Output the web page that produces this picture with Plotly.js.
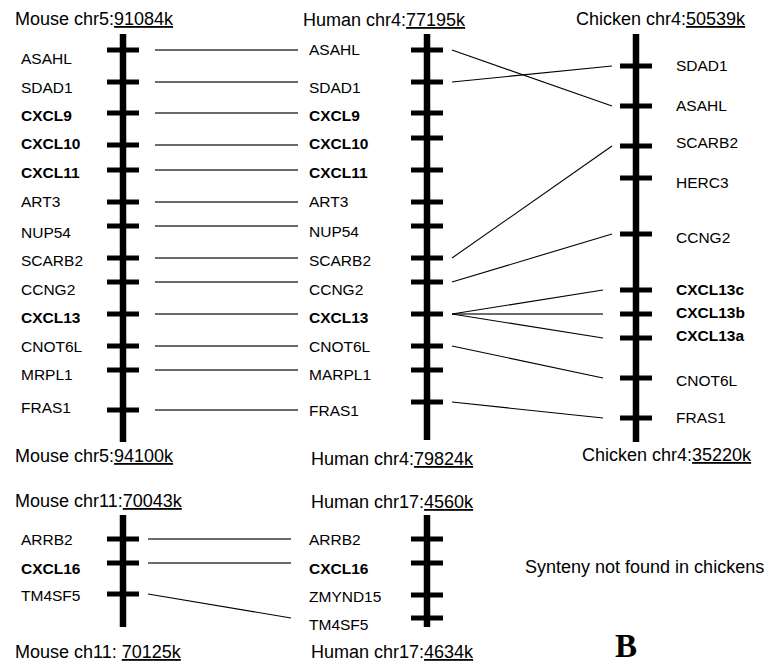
<!DOCTYPE html>
<html>
<head>
<meta charset="utf-8">
<script src="https://cdn.plot.ly/plotly-3.0.1.min.js"></script>
<style>html,body{margin:0;padding:0;background:#fff;}#chart{width:773px;height:663px;}</style>
</head>
<body>
<div id="chart"></div>
<script>
// ---------- data ----------
const mouse5Genes = ['ASAHL','SDAD1','CXCL9','CXCL10','CXCL11','ART3','NUP54','SCARB2','CCNG2','CXCL13','CNOT6L','MRPL1','FRAS1'];
const mouse5Ticks = [50,82,113,145,170,202,226,258,282,314,346,370,410];
const mouse5LabelY = [58,87,115,143,172,201,232,260,289,317,346,374,407];
const mouse5Span = [34,442];

const human4Genes = ['ASAHL','SDAD1','CXCL9','CXCL10','CXCL11','ART3','NUP54','SCARB2','CCNG2','CXCL13','CNOT6L','MARPL1','FRAS1'];
const human4Ticks = [50,82,113,138,170,202,226,258,282,314,346,370,402];
const human4LabelY = [49,87,115,143,172,201,231,260,289,317,346,374,410];
const human4Span = [34,440];

const chicken4Genes = ['SDAD1','ASAHL','SCARB2','HERC3','CCNG2','CXCL13c','CXCL13b','CXCL13a','CNOT6L','FRAS1'];
const chicken4Ticks = [66,106,146,178,234,290,314,338,378,418];
const chicken4LabelY = [65,105,142,182,237,289,312,335,380,417];
const chicken4Span = [34,442];

const mouse11Genes = ['ARRB2','CXCL16','TM4SF5'];
const mouse11Ticks = [539,563,594];
const mouse11LabelY = [539,568,595];
const mouse11Span = [515,627];

const human17Genes = ['ARRB2','CXCL16','ZMYND15','TM4SF5'];
const human17Ticks = [539,563,595,618];
const human17LabelY = [539,568,596,624];
const human17Span = [515,627];

// links: [gene index in first chromosome, gene index in second chromosome]
const mouseHuman5Links = [[0,0],[1,1],[2,2],[3,3],[4,4],[5,5],[6,6],[7,7],[8,8],[9,9],[10,10],[11,11],[12,12]];
const humanChickenLinks = [['ASAHL','ASAHL'],['SDAD1','SDAD1'],['SCARB2','SCARB2'],['CCNG2','CCNG2'],
  ['CXCL13','CXCL13c'],['CXCL13','CXCL13b'],['CXCL13','CXCL13a'],['CNOT6L','CNOT6L'],['FRAS1','FRAS1']];
const mouseHuman11Links = [['ARRB2','ARRB2'],['CXCL16','CXCL16'],['TM4SF5','TM4SF5']];

const titles = [
  {t:'Mouse chr5:', n:'91084k', x:14, y:19},
  {t:'Human chr4:', n:'77195k', x:302, y:20},
  {t:'Chicken chr4:', n:'50539k', x:575, y:19},
  {t:'Mouse chr5:', n:'94100k', x:14, y:456},
  {t:'Human chr4:', n:'79824k', x:310, y:459},
  {t:'Chicken chr4:', n:'35220k', x:581, y:455},
  {t:'Mouse chr11:', n:'70043k', x:14, y:501},
  {t:'Human chr17:', n:'4560k', x:310, y:502},
  {t:'Mouse ch11: ', n:'70125k', x:14, y:652},
  {t:'Human chr17:', n:'4634k', x:310, y:652}
];

// ---------- drawing ----------
const FONT = 'Liberation Sans, Arial, Helvetica, sans-serif';
const traces = [];
const annotations = [];

function chromosome(cx, span, ticks, genes, labelY, labelX) {
  traces.push({x:[cx,cx], y:span, mode:'lines', line:{color:'#000', width:6.5}, hoverinfo:'skip', showlegend:false});
  const tx=[], ty=[];
  ticks.forEach(t => { tx.push(cx-16, cx+16, null); ty.push(t, t, null); });
  traces.push({x:tx, y:ty, mode:'lines', line:{color:'#000', width:5}, hoverinfo:'skip', showlegend:false});
  genes.forEach((g,i) => {
    const bold = g.startsWith('CXCL');
    annotations.push({x:labelX, y:labelY[i], xref:'x', yref:'y', xanchor:'left', yanchor:'middle',
      showarrow:false, borderpad:0,
      text: bold ? '<b>'+g+'</b>' : g, font:{family:FONT, size:15.5, color:'#000'}});
  });
}

chromosome(123, mouse5Span, mouse5Ticks, mouse5Genes, mouse5LabelY, 20);
chromosome(427, human4Span, human4Ticks, human4Genes, human4LabelY, 308);
chromosome(636, chicken4Span, chicken4Ticks, chicken4Genes, chicken4LabelY, 675);
chromosome(123, mouse11Span, mouse11Ticks, mouse11Genes, mouse11LabelY, 20);
chromosome(427, human17Span, human17Ticks, human17Genes, human17LabelY, 308);

function addLinks(segs) {
  const hx=[], hy=[], dx=[], dy=[];
  segs.forEach(s => {
    if (Math.abs(s[1]-s[3]) < 0.5) { hx.push(s[0], s[2], null); hy.push(s[1], s[3], null); }
    else { dx.push(s[0], s[2], null); dy.push(s[1], s[3], null); }
  });
  traces.push({x:hx, y:hy, mode:'lines', line:{color:'#3a3a3a', width:1.7}, hoverinfo:'skip', showlegend:false});
  traces.push({x:dx, y:dy, mode:'lines', line:{color:'#000', width:1.1}, hoverinfo:'skip', showlegend:false});
}

// mouse chr5 -> human chr4: horizontal at the mouse gene level
addLinks(mouseHuman5Links.map(([a,b]) => [155, mouse5Ticks[a], 298, mouse5Ticks[a]]));
// human chr4 -> chicken chr4
addLinks(humanChickenLinks.map(([h,c]) => {
  const hi = human4Genes.indexOf(h), ci = chicken4Genes.indexOf(c);
  return [452, human4Ticks[hi], ci < 5 ? 612 : 603, chicken4Ticks[ci]];
}));
// mouse chr11 -> human chr17
addLinks(mouseHuman11Links.map(([m,h]) => {
  const mi = mouse11Genes.indexOf(m), hi = human17Genes.indexOf(h);
  return [148, mouse11Ticks[mi], 291, human17Ticks[hi]];
}));

titles.forEach(o => annotations.push({x:o.x, y:o.y, xref:'x', yref:'y', xanchor:'left', yanchor:'middle',
  showarrow:false, borderpad:0, text:o.t+'<u>'+o.n+'</u>', font:{family:FONT, size:18, color:'#000'}}));

annotations.push({x:524, y:567, xref:'x', yref:'y', xanchor:'left', yanchor:'middle', showarrow:false, borderpad:0,
  text:'Synteny not found in chickens', font:{family:FONT, size:18, color:'#000'}});
annotations.push({x:626, y:646, xref:'x', yref:'y', xanchor:'center', yanchor:'middle', showarrow:false, borderpad:0,
  text:'<b>B</b>', font:{family:'Liberation Serif, Times New Roman, serif', size:33, color:'#000'}});

const layout = {
  width:773, height:663,
  margin:{l:0, r:0, t:0, b:0, pad:0},
  paper_bgcolor:'#fff', plot_bgcolor:'#fff',
  xaxis:{range:[0,773], visible:false, fixedrange:true},
  yaxis:{range:[663,0], visible:false, fixedrange:true},
  annotations: annotations,
  showlegend:false
};

Plotly.newPlot('chart', traces, layout, {staticPlot:true, displayModeBar:false});
</script>
</body>
</html>
